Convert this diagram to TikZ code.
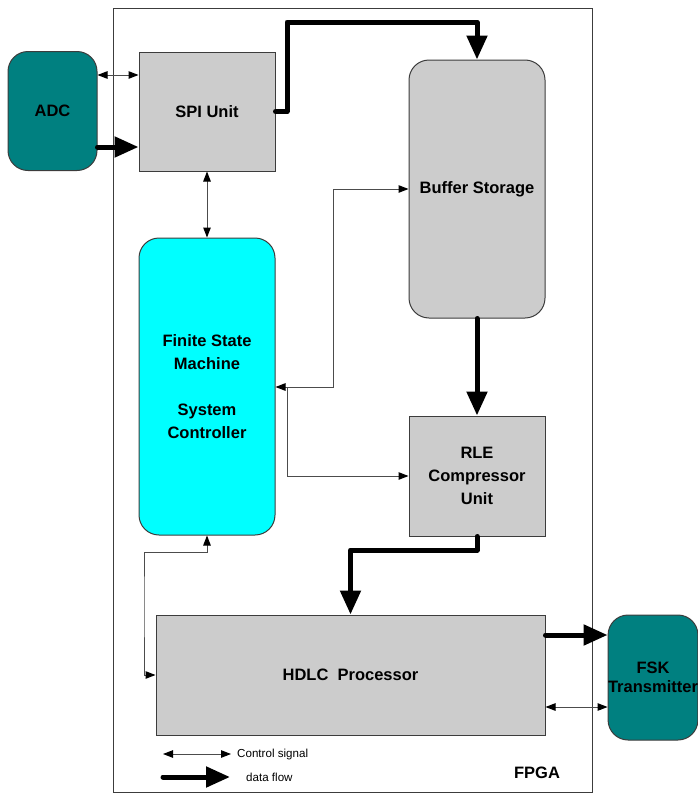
\documentclass[tikz,border=0pt]{standalone}
\usepackage{fontspec}
\setmainfont{Liberation Sans}
\usepackage{tikz}
\usetikzlibrary{arrows.meta,calc,positioning}
\definecolor{tealbox}{RGB}{0,128,128}
\definecolor{cyanbox}{RGB}{0,255,255}
\definecolor{greybox}{RGB}{204,204,204}
\definecolor{edge}{RGB}{60,60,60}

\begin{document}
\begin{tikzpicture}[x=1pt,y=-1pt,
  unit/.style={draw=edge,line width=1pt,inner sep=0pt,align=center,
    font=\bfseries\fontsize{16.5}{23}\selectfont},
  grey/.style={unit,fill=greybox},
  ext/.style={unit,fill=tealbox,rounded corners=20pt},
  ctrl/.style={draw=black!70,line width=1pt,
    {Triangle[length=10pt,width=7.5pt,color=black]}-{Triangle[length=10pt,width=7.5pt,color=black]}},
  ctrlend/.style={draw=black!70,line width=1pt,-{Triangle[length=10pt,width=7.5pt,color=black]}},
  dataflow/.style={line width=5pt,line cap=round,line join=round,
    -{Triangle[length=24pt,width=20pt]}},
  legend/.style={inner sep=0pt,anchor=west,font=\fontsize{11.6}{14}\selectfont}]
\useasboundingbox (0,0) rectangle (698,795);
% FPGA frame
\draw[edge,line width=1pt] (113,8) rectangle (592,792);
% blocks
\node[ext,minimum width=89pt,minimum height=119pt] (adc) at (52.5,111) {ADC};
\node[grey,minimum width=136pt,minimum height=119pt] (spi) at (207,111.5) {SPI Unit};
\node[grey,rounded corners=20pt,minimum width=136pt,minimum height=258pt] (buf) at (477,189) {Buffer Storage};
\node[unit,fill=cyanbox,rounded corners=20pt,minimum width=136pt,minimum height=297pt] (fsm) at (207,386.5)
  {Finite State\\Machine\\[23pt]System\\Controller};
\node[grey,minimum width=136pt,minimum height=120pt] (rle) at (477,476) {RLE\\Compressor\\Unit};
\node[grey,minimum width=389pt,minimum height=120pt] (hdlc) at (350.5,675) {HDLC\ \ Processor};
\node[ext,minimum width=88pt,minimum height=125pt] (fsk) at (653,677.5) {FSK\\[-4pt]Transmitter};
% control signals
\draw[ctrl] (adc.east |- 0,75) -- (spi.west |- 0,75);
\draw[ctrl] (spi.south) -- (fsm.north);
\draw[ctrl] (fsm.east |- 0,387) -- (333,387) |- (buf.west);
\coordinate (split) at (287,387);
\draw[ctrlend] (split) |- (rle.west);
\draw[ctrl] (fsm.south) -- (207,552) -| (144,600) |- (hdlc.west);
\draw[ctrl] (hdlc.east |- 0,707) -- (fsk.west |- 0,707);
% data flow
\draw[dataflow] (adc.east |- 0,147) -- (spi.west |- 0,147);
\draw[dataflow] (spi.east) -| (287,22) -| (buf.north);
\draw[dataflow] (buf.south) -- (rle.north);
\draw[dataflow] (rle.south) -- (477,550) -| (hdlc.north);
\draw[dataflow] (hdlc.east |- 0,635) -- (fsk.west |- 0,635);
% legend
\coordinate (c1) at (163,754);
\coordinate (c2) at (231,754);
\coordinate (d1) at (163,777);
\coordinate (d2) at (230,777);
\draw[ctrl] (c1) -- (c2);
\draw[dataflow] (d1) -- (d2);
\node[legend] (ctrltxt) at (237,754) {Control signal};
\node[legend] (datatxt) at (246,777) {data flow};
\node[font=\bfseries\fontsize{16.5}{20}\selectfont,inner sep=0pt] (fpga) at (537,773) {FPGA};
\end{tikzpicture}
\end{document}
